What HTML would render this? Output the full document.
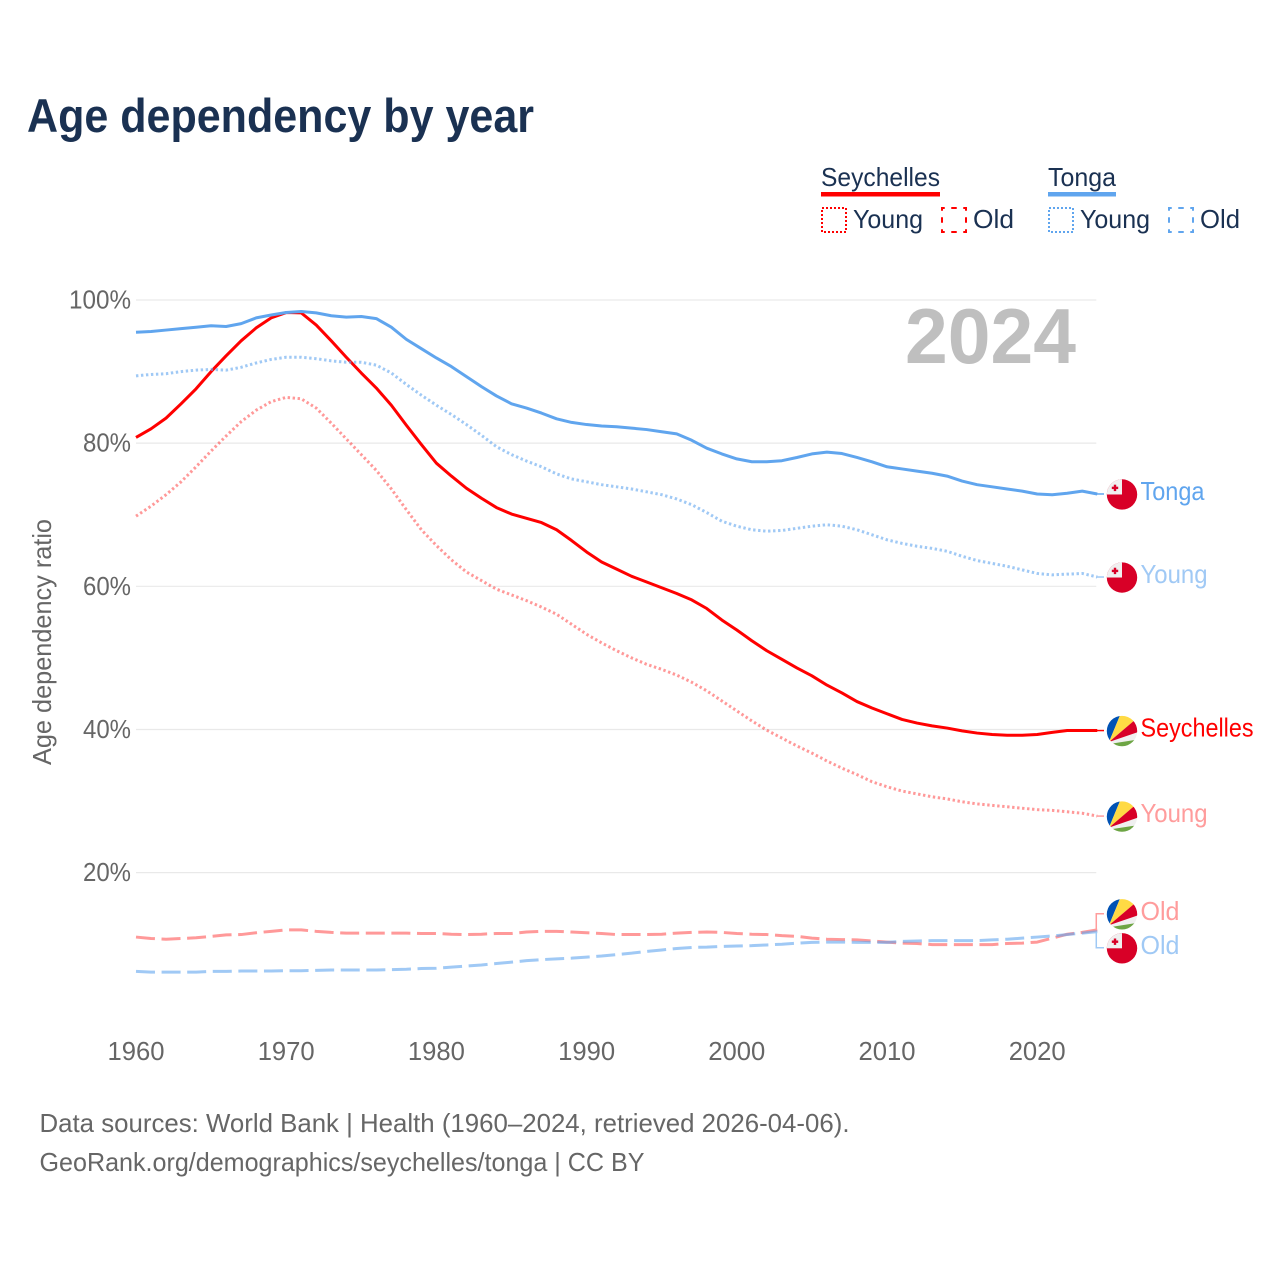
<!DOCTYPE html>
<html lang="en">
<head>
<meta charset="utf-8">
<title>Age dependency by year</title>
<style>
html,body{margin:0;padding:0;background:#fff;}
svg{display:block;font-family:"Liberation Sans",sans-serif;}
</style>
</head>
<body>
<svg id="chart" xmlns="http://www.w3.org/2000/svg" width="1280" height="1280" viewBox="0 0 1280 1280">
  <rect x="0" y="0" width="1280" height="1280" fill="#ffffff"/>
  <text x="27" y="132" font-size="47" font-weight="700" fill="#1a3152" textLength="507" lengthAdjust="spacingAndGlyphs">Age dependency by year</text>

  <g font-size="26" fill="#1a3152">
    <text x="821" y="186" textLength="119" lengthAdjust="spacingAndGlyphs">Seychelles</text>
    <rect x="821" y="192" width="119" height="4.5" fill="#ff0000"/>
    <rect x="822" y="208" width="24" height="24" fill="none" stroke="#ff0000" stroke-width="2" stroke-dasharray="2 2"/>
    <text x="853" y="228" textLength="70" lengthAdjust="spacingAndGlyphs">Young</text>
    <rect x="942" y="208" width="24" height="24" fill="none" stroke="#ff0000" stroke-width="2" stroke-dasharray="5.5 6.5" stroke-dashoffset="2.75"/>
    <text x="973" y="228" textLength="41" lengthAdjust="spacingAndGlyphs">Old</text>
    <text x="1048" y="186" textLength="68" lengthAdjust="spacingAndGlyphs">Tonga</text>
    <rect x="1048" y="192" width="68" height="4.5" fill="#60a5ee"/>
    <rect x="1049" y="208" width="24" height="24" fill="none" stroke="#60a5ee" stroke-width="2" stroke-dasharray="2 2"/>
    <text x="1080" y="228" textLength="70" lengthAdjust="spacingAndGlyphs">Young</text>
    <rect x="1169" y="208" width="24" height="24" fill="none" stroke="#60a5ee" stroke-width="2" stroke-dasharray="5.5 6.5" stroke-dashoffset="2.75"/>
    <text x="1200" y="228" textLength="40" lengthAdjust="spacingAndGlyphs">Old</text>
  </g>

  <g id="grid"></g>
  <g id="y-ticks" font-size="26" fill="#666666"></g>
  <g id="x-ticks" font-size="26" fill="#666666"></g>
  <text transform="translate(51,642) rotate(-90)" text-anchor="middle" font-size="26" fill="#666666" textLength="246" lengthAdjust="spacingAndGlyphs">Age dependency ratio</text>
  <text x="905" y="363" font-size="78" font-weight="700" fill="#bfbfbf" textLength="171" lengthAdjust="spacingAndGlyphs">2024</text>

  <g id="series"></g>
  <g id="end-labels"></g>

  <g font-size="26" fill="#666666">
    <text x="39.5" y="1132" textLength="810" lengthAdjust="spacingAndGlyphs">Data sources: World Bank | Health (1960–2024, retrieved 2026-04-06).</text>
    <text x="39.5" y="1171" textLength="605" lengthAdjust="spacingAndGlyphs">GeoRank.org/demographics/seychelles/tonga | CC BY</text>
  </g>
</svg>

<script>
const startYear = 1960;
const yTickValues = [100, 80, 60, 40, 20];
const xTickYears = [1960, 1970, 1980, 1990, 2000, 2010, 2020];

const seychellesTotal = [80.8,82.0,83.5,85.5,87.6,90.0,92.2,94.3,96.1,97.5,98.25,98.2,96.5,94.3,92.0,89.8,87.7,85.3,82.5,79.8,77.2,75.4,73.7,72.3,71.0,70.1,69.5,68.9,67.9,66.4,64.8,63.4,62.4,61.4,60.6,59.8,59.0,58.1,56.9,55.3,53.9,52.4,51.0,49.8,48.6,47.5,46.2,45.1,43.9,43.0,42.2,41.4,40.9,40.5,40.2,39.8,39.5,39.3,39.2,39.2,39.3,39.6,39.85,39.85,39.85];
const seychellesYoung = [69.8,71.2,72.8,74.6,76.7,78.9,81.0,83.0,84.6,85.8,86.4,86.2,84.9,82.8,80.6,78.4,76.2,73.6,70.7,67.9,65.7,63.7,62.0,60.8,59.6,58.8,58.0,57.1,56.1,54.7,53.3,52.1,51.0,50.0,49.1,48.4,47.6,46.6,45.4,44.0,42.6,41.2,39.9,38.8,37.7,36.7,35.6,34.6,33.7,32.7,32.0,31.4,31.0,30.6,30.3,29.9,29.6,29.4,29.2,29.0,28.8,28.7,28.5,28.3,27.9];
const seychellesOld = [11.0,10.8,10.7,10.8,10.9,11.1,11.3,11.35,11.6,11.8,12.0,12.0,11.8,11.65,11.55,11.55,11.55,11.55,11.55,11.5,11.5,11.4,11.35,11.4,11.5,11.5,11.7,11.8,11.8,11.7,11.6,11.5,11.35,11.35,11.35,11.4,11.55,11.65,11.7,11.65,11.5,11.4,11.35,11.2,11.1,10.85,10.7,10.65,10.6,10.45,10.3,10.15,10.1,9.95,9.95,9.95,9.95,9.95,10.1,10.15,10.3,10.85,11.4,11.65,12.0];
const tongaTotal = [95.5,95.6,95.8,96.0,96.2,96.4,96.3,96.7,97.5,97.9,98.25,98.4,98.2,97.8,97.6,97.7,97.4,96.2,94.5,93.2,91.9,90.7,89.3,87.9,86.6,85.5,84.9,84.2,83.4,82.9,82.6,82.4,82.3,82.1,81.9,81.6,81.3,80.4,79.3,78.5,77.8,77.4,77.4,77.55,78.0,78.5,78.75,78.55,78.0,77.4,76.7,76.4,76.1,75.8,75.4,74.7,74.2,73.9,73.6,73.3,72.9,72.8,73.0,73.3,72.9];
const tongaYoung = [89.4,89.6,89.7,90.0,90.2,90.3,90.2,90.6,91.2,91.7,92.0,92.0,91.8,91.5,91.3,91.3,90.9,89.8,88.2,86.7,85.3,84.0,82.6,81.1,79.5,78.4,77.5,76.7,75.7,75.0,74.6,74.2,73.9,73.6,73.2,72.8,72.2,71.4,70.3,69.1,68.4,67.9,67.7,67.8,68.1,68.4,68.6,68.4,67.9,67.2,66.5,66.0,65.6,65.3,64.9,64.2,63.6,63.2,62.8,62.3,61.8,61.6,61.7,61.8,61.3];
const tongaOld = [6.2,6.1,6.1,6.1,6.1,6.2,6.2,6.25,6.25,6.25,6.3,6.3,6.35,6.4,6.4,6.4,6.4,6.45,6.5,6.6,6.65,6.8,6.95,7.1,7.3,7.5,7.7,7.85,7.95,8.05,8.2,8.35,8.55,8.75,9.0,9.2,9.4,9.55,9.6,9.7,9.75,9.8,9.9,10.0,10.15,10.25,10.3,10.3,10.25,10.25,10.25,10.4,10.45,10.5,10.5,10.5,10.5,10.6,10.7,10.85,11.0,11.15,11.35,11.55,11.75];

const SVG_NS = 'http://www.w3.org/2000/svg';
const xScale = function (year) { return 136 + (year - 1960) * 15.02; };
const yScale = function (value) { return 1015.8 - value * 7.158; };

function make(tag, parent) {
  const el = document.createElementNS(SVG_NS, tag);
  parent.appendChild(el);
  return el;
}

const gridGroup = document.getElementById('grid');
const yTickGroup = document.getElementById('y-ticks');
const xTickGroup = document.getElementById('x-ticks');
const seriesGroup = document.getElementById('series');
const labelGroup = document.getElementById('end-labels');

yTickValues.forEach(function (v) {
  const line = make('line', gridGroup);
  
  
  line.setAttribute('x1', 136);
  line.setAttribute('x2', xScale(2024) - 1);
  line.setAttribute('y1', yScale(v));
  line.setAttribute('y2', yScale(v));
  line.setAttribute('stroke', '#e9e9e9');
  line.setAttribute('stroke-width', 1.2);

  const label = make('text', yTickGroup);
  
  
  label.setAttribute('x', 131);
  label.setAttribute('y', yScale(v) + 8.5);
  label.setAttribute('text-anchor', 'end');
  label.setAttribute('textLength', v === 100 ? 62 : 48);
  label.setAttribute('lengthAdjust', 'spacingAndGlyphs');
  label.textContent = v + '%';
});

xTickYears.forEach(function (year) {
  const label = make('text', xTickGroup);
  
  
  label.setAttribute('x', xScale(year));
  label.setAttribute('y', 1060);
  label.setAttribute('text-anchor', 'middle');
  label.setAttribute('textLength', 57);
  label.setAttribute('lengthAdjust', 'spacingAndGlyphs');
  label.textContent = year;
});

function drawSeries(values, name, color, opacity, dash) {
  const path = make('path', seriesGroup);
  
  
  const d = values.map(function (v, i) {
    return (i ? 'L' : 'M') + xScale(startYear + i).toFixed(2) + ' ' + yScale(v).toFixed(2);
  }).join(' ');
  path.setAttribute('d', d);
  path.setAttribute('fill', 'none');
  path.setAttribute('stroke', color);
  path.setAttribute('stroke-opacity', opacity);
  path.setAttribute('stroke-width', 3);
  path.setAttribute('stroke-linejoin', 'round');
  if (dash) path.setAttribute('stroke-dasharray', dash);
}

const RED = '#ff0000';
const BLUE = '#60a5ee';
const RED_LIGHT = '#ff9c9c';
const BLUE_LIGHT = '#a0c9f5';

drawSeries(seychellesYoung, 'line-seychelles-young', RED, 0.4, '2.4 2.6');
drawSeries(seychellesOld, 'line-seychelles-old', RED, 0.4, '19 6.6');
drawSeries(seychellesTotal, 'line-seychelles-total', RED, 1, null);
drawSeries(tongaYoung, 'line-tonga-young', BLUE, 0.6, '2.4 2.6');
drawSeries(tongaOld, 'line-tonga-old', BLUE, 0.6, '19 6.6');
drawSeries(tongaTotal, 'line-tonga-total', BLUE, 1, null);

function drawTongaFlag(group, cx, cy, id) {
  const clip = make('clipPath', group);
  clip.setAttribute('id', id);
  const clipCircle = make('circle', clip);
  clipCircle.setAttribute('cx', cx);
  clipCircle.setAttribute('cy', cy);
  clipCircle.setAttribute('r', 15.2);
  const inner = make('g', group);
  inner.setAttribute('clip-path', 'url(#' + id + ')');
  
  
  const field = make('rect', inner);
  field.setAttribute('x', cx - 16);
  field.setAttribute('y', cy - 16);
  field.setAttribute('width', 32);
  field.setAttribute('height', 32);
  field.setAttribute('fill', '#d80027');
  const canton = make('rect', inner);
  canton.setAttribute('x', cx - 16);
  canton.setAttribute('y', cy - 16);
  canton.setAttribute('width', 16);
  canton.setAttribute('height', 16);
  canton.setAttribute('fill', '#f0f0f0');
  const bar1 = make('rect', inner);
  bar1.setAttribute('x', cx - 8.2);
  bar1.setAttribute('y', cy - 9.8);
  bar1.setAttribute('width', 2.4);
  bar1.setAttribute('height', 6.4);
  bar1.setAttribute('fill', '#d80027');
  const bar2 = make('rect', inner);
  bar2.setAttribute('x', cx - 10.2);
  bar2.setAttribute('y', cy - 7.8);
  bar2.setAttribute('width', 6.4);
  bar2.setAttribute('height', 2.4);
  bar2.setAttribute('fill', '#d80027');
}

function drawSeychellesFlag(group, cx, cy, id) {
  const clip = make('clipPath', group);
  clip.setAttribute('id', id);
  const clipCircle = make('circle', clip);
  clipCircle.setAttribute('cx', cx);
  clipCircle.setAttribute('cy', cy);
  clipCircle.setAttribute('r', 15.2);
  const inner = make('g', group);
  inner.setAttribute('clip-path', 'url(#' + id + ')');
  
  
  const bands = [
    ['#f0f0f0', [[-13, 11], [20, -0.4], [20, 20], [-20, 20], [-20, 11]]],
    ['#0052b4', [[-13, 11], [-0.2, -20], [-20, -20], [-20, 13]]],
    ['#ffda44', [[-13, 11], [-0.2, -20], [20, -20], [20, -17.2]]],
    ['#d80027', [[-13, 11], [20, -17.2], [20, -0.4]]],
    ['#6da544', [[-8.7, 12.3], [12.7, 9], [20, 7.9], [20, 20], [-8.7, 20]]]
  ];
  bands.forEach(function (band) {
    const poly = make('polygon', inner);
    const pts = band[1].map(function (p) { return (cx + p[0]) + ',' + (cy + p[1]); });
    poly.setAttribute('points', pts.join(' '));
    poly.setAttribute('fill', band[0]);
  });
}

const endEntries = [
  { key: 'tonga-total', text: 'Tonga', last: tongaTotal[tongaTotal.length - 1], line: BLUE, color: BLUE, flag: 'to', w: 64 },
  { key: 'tonga-young', text: 'Young', last: tongaYoung[tongaYoung.length - 1], line: BLUE_LIGHT, color: BLUE_LIGHT, flag: 'to', w: 67 },
  { key: 'seychelles-total', text: 'Seychelles', last: seychellesTotal[seychellesTotal.length - 1], line: RED, color: RED, flag: 'sc', w: 113 },
  { key: 'seychelles-young', text: 'Young', last: seychellesYoung[seychellesYoung.length - 1], line: RED_LIGHT, color: RED_LIGHT, flag: 'sc', w: 67 },
  { key: 'seychelles-old', text: 'Old', last: seychellesOld[seychellesOld.length - 1], line: RED_LIGHT, color: RED_LIGHT, flag: 'sc', w: 39 },
  { key: 'tonga-old', text: 'Old', last: tongaOld[tongaOld.length - 1], line: BLUE_LIGHT, color: BLUE_LIGHT, flag: 'to', w: 39 }
];

endEntries.sort(function (a, b) { return b.last - a.last; });
endEntries.forEach(function (e) { e.y0 = yScale(e.last); e.y = e.y0; });
for (let i = 1; i < endEntries.length; i++) {
  const a = endEntries[i - 1], b = endEntries[i];
  if (b.y - a.y < 34) {
    const mid = (a.y + b.y) / 2;
    a.y = mid - 17;
    b.y = mid + 17;
  }
}

endEntries.forEach(function (e, i) {
  const leader = make('polyline', labelGroup);
  
  
  const xEnd = xScale(2024);
  leader.setAttribute('points', (xEnd - 1) + ',' + e.y0 + ' ' + (xEnd - 1) + ',' + e.y + ' 1104,' + e.y);
  leader.setAttribute('fill', 'none');
  leader.setAttribute('stroke', e.line);
  leader.setAttribute('stroke-width', 1.5);

  if (e.flag === 'to') {
    drawTongaFlag(labelGroup, 1122, e.y + 0.5, 'clip-flag-' + i);
  } else {
    drawSeychellesFlag(labelGroup, 1122, e.y + 0.5, 'clip-flag-' + i);
  }

  const label = make('text', labelGroup);
  
  
  label.setAttribute('x', 1140.5);
  label.setAttribute('y', e.y + 6);
  label.setAttribute('font-size', 26);
  label.setAttribute('fill', e.color);
  label.setAttribute('textLength', e.w);
  label.setAttribute('lengthAdjust', 'spacingAndGlyphs');
  label.textContent = e.text;
});
</script>
</body>
</html>
